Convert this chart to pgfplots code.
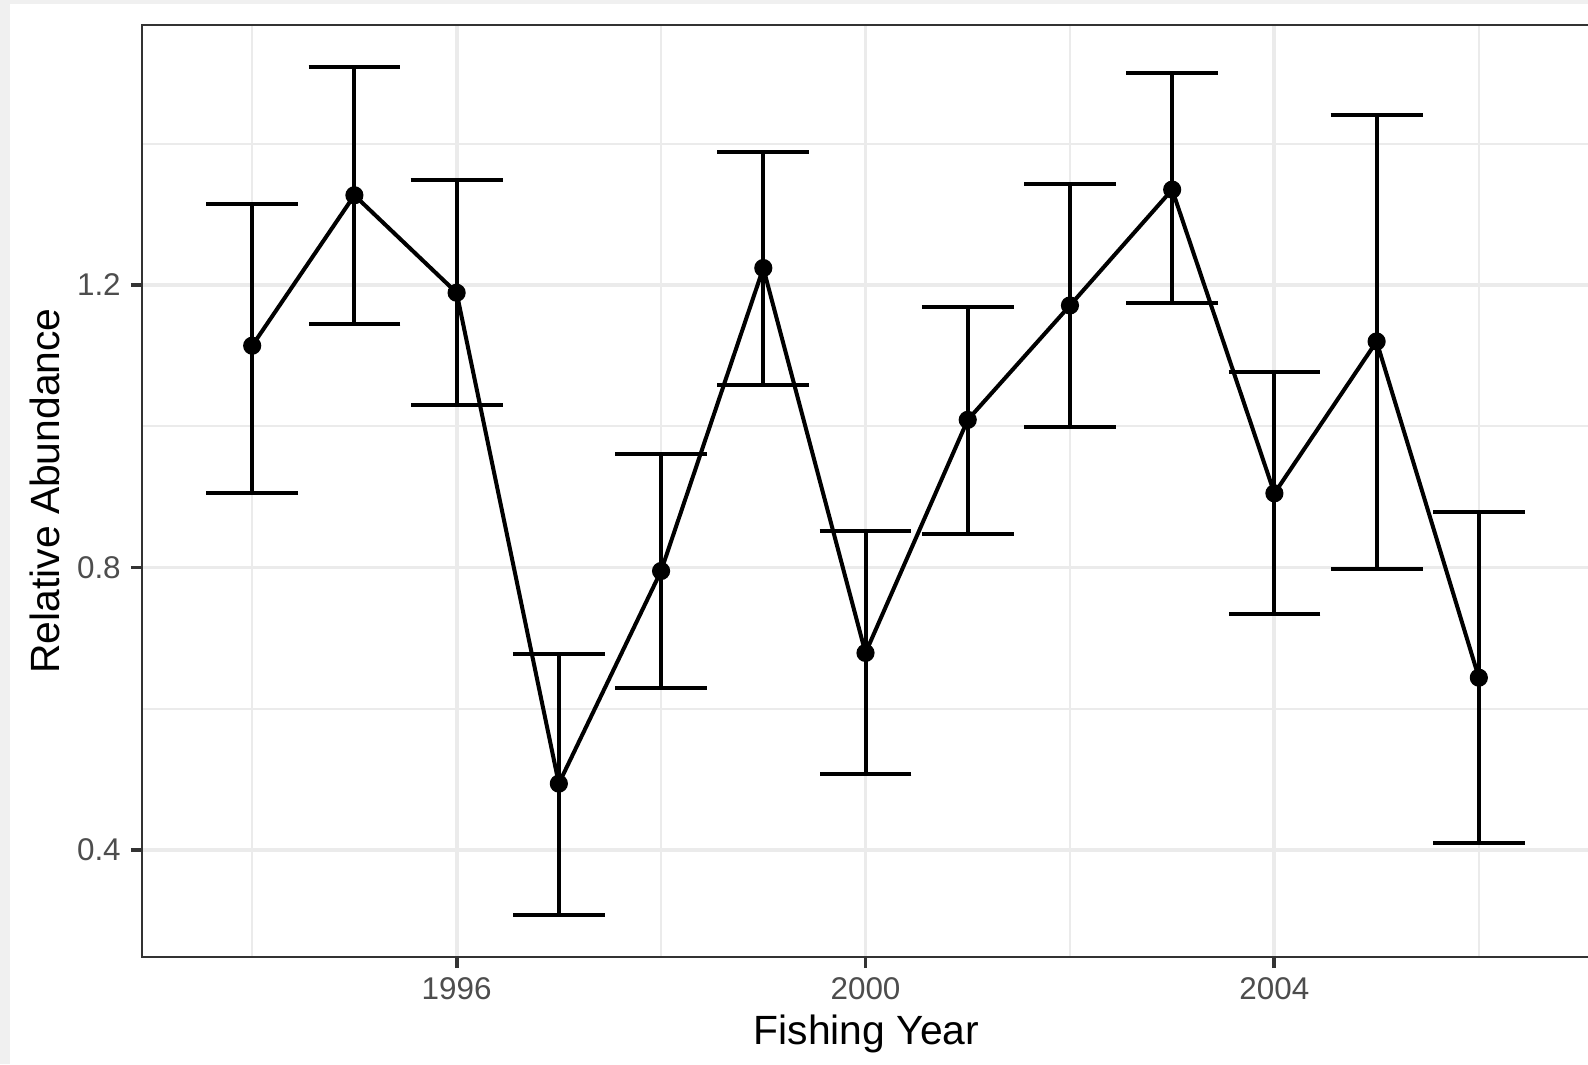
\documentclass[border=0pt]{standalone}
\usepackage{fontspec}
\setmainfont{Liberation Sans}
\usepackage{pgfplots}
\usepackage{pgfplotstable}
\pgfplotsset{compat=1.18}
\definecolor{gridc}{HTML}{EBEBEB}
\definecolor{framec}{HTML}{333333}
\definecolor{ticklab}{HTML}{4D4D4D}
\definecolor{outer}{HTML}{F0F0F0}
\pgfplotstableread{
year y lo hi
1994 1.114 0.905 1.315
1995 1.327 1.145 1.509
1996 1.189 1.030 1.348
1997 0.494 0.308 0.677
1998 0.795 0.629 0.960
1999 1.224 1.059 1.388
2000 0.679 0.507 0.852
2001 1.009 0.848 1.169
2002 1.171 0.999 1.343
2003 1.335 1.174 1.500
2004 0.905 0.734 1.077
2005 1.120 0.798 1.440
2006 0.644 0.410 0.878
}\data
\begin{document}
\begin{tikzpicture}
\useasboundingbox (-40.68pt,-30.66pt) rectangle (414.28pt,274.18pt);
\clip (-40.68pt,-30.66pt) rectangle (414.28pt,274.18pt);
\fill[outer] (-40.68pt,-30.66pt) rectangle (414.28pt,274.18pt);
\fill[white] (-37.82pt,-30.66pt) rectangle (414.28pt,273.03pt);
\begin{axis}[
  scale only axis, width=415.1pt, height=267.0pt,
  xmin=1992.922, xmax=2007.096, ymin=0.2485, ymax=1.568,
  xtick={1996,2000,2004}, minor xtick={1994,1998,2002,2006},
  ytick={0.4,0.8,1.2}, minor ytick={0.6,1.0,1.4},
  grid=both,
  major grid style={gridc, line width=1.1pt},
  minor grid style={gridc, line width=0.55pt},
  axis line style={framec, line width=0.6pt},
  tick align=outside, major tick length=3.2pt, minor tick length=0pt,
  tick style={framec, line width=1.1pt},
  xtick pos=lower, ytick pos=left,
  /pgf/number format/assume math mode=true,
  x tick label style={/pgf/number format/1000 sep={}},
  ticklabel style={font=\fontsize{9}{10}\selectfont, text=ticklab},
  xticklabel style={anchor=north, inner sep=0pt, yshift=-2.45pt},
  yticklabel style={anchor=east, inner sep=0pt, xshift=-2.7pt},
  xlabel={Fishing Year}, ylabel={Relative Abundance},
  label style={font=\fontsize{11.7}{13}\selectfont, text=black},
  xlabel style={at={(axis description cs:0.5,0)}, anchor=north, inner sep=0pt, yshift=-16.3pt},
  ylabel style={at={(axis description cs:-0.0673,0.5)}, anchor=center, inner sep=0pt},
]
\addplot[black, line width=1.15pt] table[x=year, y=y]{\data};
\addplot[black, only marks, mark=*, mark size=2.4pt,
  error bars/.cd, y dir=both, y explicit,
  error bar style={black, line width=1.15pt},
  error mark options={rotate=90, black, line width=1.15pt, mark size=13.15pt}]
  table[x=year, y=y, y error plus expr=\thisrow{hi}-\thisrow{y}, y error minus expr=\thisrow{y}-\thisrow{lo}]{\data};
\end{axis}
\end{tikzpicture}
\end{document}
